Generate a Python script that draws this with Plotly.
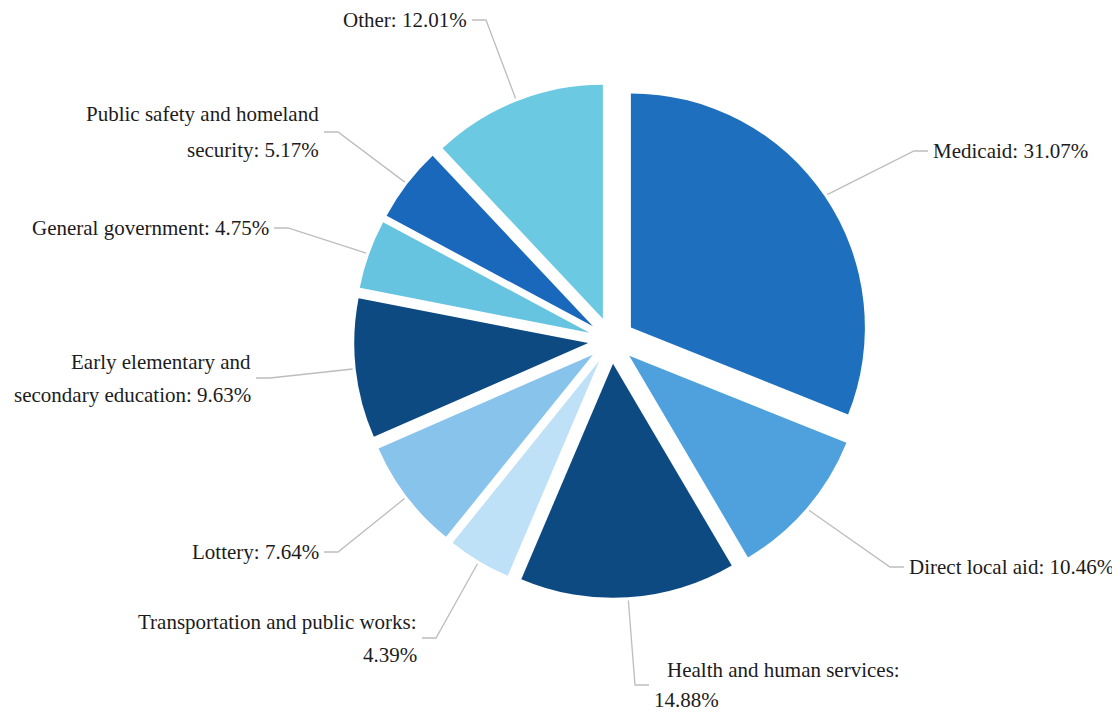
import math
import plotly.graph_objects as go

# ---------------- data ----------------
categories = [
    "Medicaid",
    "Direct local aid",
    "Health and human services",
    "Transportation and public works",
    "Lottery",
    "Early elementary and secondary education",
    "General government",
    "Public safety and homeland security",
    "Other",
]
shares = [31.07, 10.46, 14.88, 4.39, 7.64, 9.63, 4.75, 5.17, 12.01]

# ---------------- styles / layout ----------------
slice_colors = [
    "#1E70BE",  # Medicaid
    "#4EA1DD",  # Direct local aid
    "#0E4A82",  # Health and human services
    "#BFE1F7",  # Transportation and public works
    "#88C3EB",  # Lottery
    "#0E4A82",  # Early elementary and secondary education
    "#66C4E0",  # General government
    "#1A68BC",  # Public safety and homeland security
    "#6BC9E1",  # Other
]

W, H = 1120, 712
PAGE_OFFSET = 8            # default page margin around the plot div
CX, CY = 611.5, 340.5      # pie centre (window px)
PULL = 0.1
R_OUT = 257.4              # radius incl. pull (px)
FONT = "Liberation Serif"
FSIZE = 21
LINE_GAP = 33              # px between label lines
LEADER_COLOR = "#BDBDBD"

# label placement (window px): (x, y, side, words on first line or None, first-line x offset, line gap)
label_layout = [
    (931, 151, "left", None, 0, LINE_GAP),
    (907, 567, "left", None, 0, LINE_GAP),
    (652, 685, "left", 4, 13, 30),
    (419, 638, "right", 4, 0, LINE_GAP),
    (321, 552, "right", None, 0, LINE_GAP),
    (253, 378, "right", 3, 0, LINE_GAP),
    (271, 228, "right", None, 0, LINE_GAP),
    (321, 132, "right", 4, 0, 35),
    (469, 20, "right", None, 0, LINE_GAP),
]


def px_x(x):
    return (x - PAGE_OFFSET) / W


def px_y(y):
    return 1 - (y - PAGE_OFFSET) / H


fig = go.Figure(
    go.Pie(
        labels=categories,
        values=shares,
        sort=False,
        direction="clockwise",
        rotation=0,
        pull=[PULL] * len(shares),
        marker=dict(colors=slice_colors, line=dict(width=0)),
        textinfo="none",
        hoverinfo="label+percent",
        domain=dict(
            x=[px_x(CX - R_OUT), px_x(CX + R_OUT)],
            y=[px_y(CY + R_OUT), px_y(CY - R_OUT)],
        ),
        showlegend=False,
    )
)

annotations = []
shapes = []
total = sum(shares)
cum = 0.0
for cat, val, (lx, ly, side, wrap, indent, gap) in zip(categories, shares, label_layout):
    mid = (cum + val / 2) / total * 2 * math.pi
    cum += val
    # point just outside the slice's outer edge
    ex = CX + (R_OUT + 3) * math.sin(mid)
    ey = CY - (R_OUT + 3) * math.cos(mid)
    sgn = 1 if side == "right" else -1
    end_x = lx + sgn * 3
    elbow_x = lx + sgn * 17
    shapes.append(dict(
        type="path",
        xref="paper", yref="paper",
        path=f"M {px_x(ex)} {px_y(ey)} L {px_x(elbow_x)} {px_y(ly)} L {px_x(end_x)} {px_y(ly)}",
        line=dict(color=LEADER_COLOR, width=1.3),
    ))

    text = f"{cat}: {val:.2f}%"
    words = text.split(" ")
    if wrap:
        lines = [" ".join(words[:wrap]), " ".join(words[wrap:])]
    else:
        lines = [text]
    n = len(lines)
    for i, line in enumerate(lines):
        y = ly + (i - (n - 1) / 2) * gap
        x = lx + (indent if i == 0 else 0)
        annotations.append(dict(
            x=px_x(x), y=px_y(y), xref="paper", yref="paper",
            text=line, showarrow=False,
            xanchor=side, yanchor="middle",
            font=dict(family=FONT, size=FSIZE, color="#1C1C1C"),
        ))

fig.update_layout(
    width=W, height=H,
    margin=dict(l=0, r=0, t=0, b=0),
    paper_bgcolor="white",
    plot_bgcolor="white",
    font=dict(family=FONT),
    annotations=annotations,
    shapes=shapes,
)

fig.write_html("out.html")
